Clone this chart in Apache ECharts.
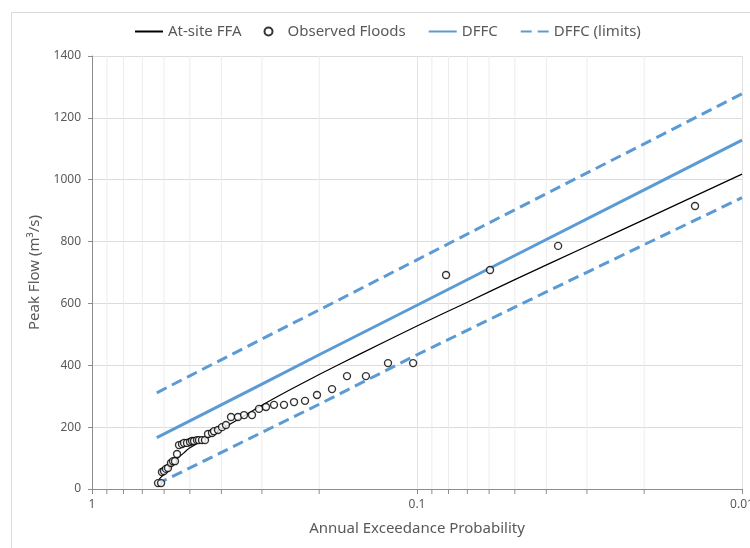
<!DOCTYPE html>
<html>
<head>
<meta charset="utf-8">
<title>Peak flow vs AEP</title>
<script src="https://cdn.jsdelivr.net/npm/echarts@6/dist/echarts.min.js"></script>
<style>
  html, body { margin: 0; padding: 0; background: #fff; }
  #chart { width: 750px; height: 548px; }
</style>
</head>
<body>
<div id="chart"></div>
<script>
// at-site flood frequency curve (AEP, m3/s)
const ffaAep = [0.622, 0.6, 0.58, 0.55, 0.52, 0.5, 0.45, 0.4, 0.35, 0.3, 0.25, 0.2, 0.15, 0.1, 0.07, 0.05, 0.03, 0.02, 0.01];
const ffaFlow = [31, 49, 67, 95, 118, 133, 161, 193, 229, 271, 317, 370, 436, 527, 604, 677, 785, 871, 1018];

// observed annual floods
const obsAep = [0.6264, 0.6130, 0.6091, 0.6005, 0.5921, 0.5837, 0.5714, 0.5633, 0.5554, 0.5475,
  0.5398, 0.5285, 0.5210, 0.5101, 0.4994, 0.4923, 0.4854, 0.4752, 0.4686, 0.4587,
  0.4491, 0.4396, 0.4273, 0.4213, 0.4095, 0.3981, 0.3870, 0.3735, 0.3554, 0.3405,
  0.3219, 0.3063, 0.2915, 0.2754, 0.2566, 0.2390, 0.2211, 0.2031, 0.1826, 0.1642,
  0.1436, 0.1228, 0.1028, 0.0814, 0.0596, 0.0368, 0.01395];
const obsFlow = [19, 19, 55, 58, 65, 68, 84, 90, 90, 113,
  142, 145, 149, 149, 152, 155, 155, 158, 158, 158,
  158, 178, 181, 187, 191, 200, 207, 233, 233, 239,
  239, 259, 265, 272, 272, 281, 285, 304, 323, 365,
  365, 407, 407, 692, 708, 786, 915];

// design flood frequency curve and its limits
const dffcAep = [0.632, 0.5, 0.3, 0.2, 0.1, 0.05, 0.02, 0.01];
const dffcFlow = [166, 220, 339, 434, 594, 755, 967, 1128];
const dffcUpper = [311, 366, 485, 579, 741, 903, 1116, 1278];
const dffcLower = [16, 68, 183, 274, 434, 588, 790, 942];

// minor log grid lines between the decades
const minorTicks = [0.9, 0.8, 0.7, 0.6, 0.5, 0.4, 0.3, 0.2, 0.09, 0.08, 0.07, 0.06, 0.05, 0.04, 0.03, 0.02];

const yMax = 1400;
const blue = "#5B9BD5";
const textColor = "#595959";
const axisColor = "#8c8c8c";
const font = "Noto Sans";

function pairs(xs, ys) {
  return xs.map((x, i) => [x, ys[i]]);
}

const chart = echarts.init(document.getElementById("chart"));

chart.setOption({
  animation: false,
  textStyle: { fontFamily: font },
  graphic: [
    {
      type: "rect",
      shape: { x: 11.5, y: 12.5, width: 760, height: 560 },
      style: { fill: "none", stroke: "#d9d9d9", lineWidth: 1 },
      silent: true,
    },
  ],
  legend: {
    left: 129,
    top: 19,
    itemWidth: 28,
    itemHeight: 8,
    itemGap: 22,
    textStyle: { color: textColor, fontSize: 15, fontFamily: font },
    data: [
      { name: "At-site FFA", itemStyle: { opacity: 0 } },
      { name: "Observed Floods" },
      { name: "DFFC", itemStyle: { opacity: 0 } },
      { name: "DFFC (limits)", itemStyle: { opacity: 0 } },
    ],
  },
  grid: { left: 92, right: 8, top: 56, bottom: 59, outerBoundsMode: "none" },
  xAxis: {
    type: "log",
    logBase: 10,
    min: 0.01,
    max: 1,
    inverse: true,
    name: "Annual Exceedance Probability",
    nameLocation: "middle",
    nameGap: 32,
    nameTextStyle: { color: textColor, fontSize: 15 },
    axisLine: { lineStyle: { color: axisColor } },
    axisTick: { show: true, length: 5, lineStyle: { color: axisColor } },
    axisLabel: {
      color: textColor,
      fontSize: 12,
      margin: 10,
      formatter: (v) => String(+v.toPrecision(2)),
    },
    splitLine: { show: true, lineStyle: { color: "#e3e3e3" } },
  },
  yAxis: {
    type: "value",
    min: 0,
    max: yMax,
    interval: 200,
    name: "Peak Flow (m³/s)",
    nameLocation: "middle",
    nameGap: 50,
    nameTextStyle: { color: textColor, fontSize: 15 },
    axisLine: { show: true, lineStyle: { color: axisColor } },
    axisTick: { show: true, length: 4, lineStyle: { color: axisColor } },
    axisLabel: { color: textColor, fontSize: 12, margin: 11, formatter: (v) => String(v) },
    splitLine: { lineStyle: { color: "#dcdcdc" } },
  },
  series: [
    {
      // minor grid lines and ticks of the log axis
      type: "custom",
      silent: true,
      z: 0,
      data: minorTicks.map((p) => [p, 0]),
      encode: { x: 0, y: 1 },
      renderItem: (params, api) => {
        const p = api.value(0);
        const top = api.coord([p, yMax]);
        const bot = api.coord([p, 0]);
        return {
          type: "group",
          children: [
            {
              type: "line",
              shape: { x1: top[0], y1: top[1], x2: bot[0], y2: bot[1] },
              style: { stroke: "#ececec", lineWidth: 1 },
            },
            {
              type: "line",
              shape: { x1: bot[0], y1: bot[1], x2: bot[0], y2: bot[1] + 5 },
              style: { stroke: axisColor, lineWidth: 1 },
            },
          ],
        };
      },
    },
    {
      name: "At-site FFA",
      type: "line",
      smooth: 0.2,
      symbol: "none",
      lineStyle: { color: "#000", width: 1.2 },
      itemStyle: { color: "#000" },
      data: pairs(ffaAep, ffaFlow),
      z: 3,
    },
    {
      name: "Observed Floods",
      type: "scatter",
      symbol: "circle",
      symbolSize: 7,
      itemStyle: { color: "#fff", borderColor: "#000", borderWidth: 1.4 },
      data: pairs(obsAep, obsFlow),
      z: 4,
    },
    {
      name: "DFFC",
      type: "line",
      symbol: "none",
      lineStyle: { color: blue, width: 3 },
      itemStyle: { color: blue },
      data: pairs(dffcAep, dffcFlow),
      z: 2,
    },
    {
      name: "DFFC (limits)",
      type: "line",
      symbol: "none",
      lineStyle: { color: blue, width: 3, type: [11, 6] },
      itemStyle: { color: blue },
      data: pairs(dffcAep, dffcUpper),
      z: 2,
    },
    {
      name: "DFFC (limits)",
      type: "line",
      symbol: "none",
      lineStyle: { color: blue, width: 3, type: [11, 6] },
      itemStyle: { color: blue },
      data: pairs(dffcAep, dffcLower),
      z: 2,
    },
  ],
});
</script>
</body>
</html>
